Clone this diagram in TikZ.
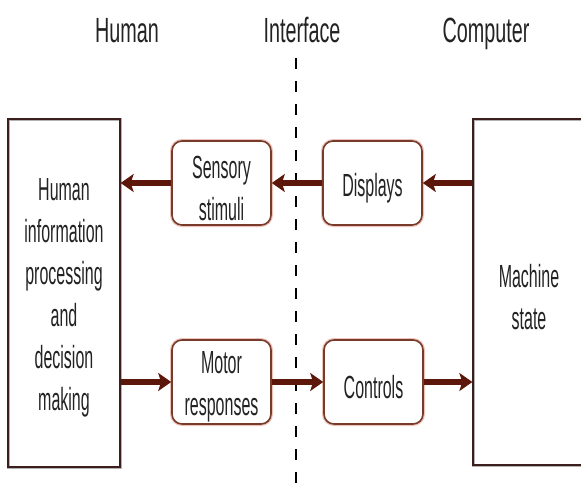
\documentclass[tikz,border=0pt]{standalone}
\usepackage{fontspec}
\setmainfont{Liberation Sans}
\newfontfamily\titlefont[FakeStretch=0.565]{Liberation Sans}
\newfontfamily\boxfont[FakeStretch=0.5]{Liberation Sans}
\usetikzlibrary{arrows.meta}

\definecolor{arrowc}{RGB}{92,22,10}
\definecolor{edgec}{RGB}{120,58,42}
\definecolor{halo}{RGB}{236,196,186}
\definecolor{bigedge}{RGB}{60,30,30}
\definecolor{txt}{RGB}{35,35,35}

\tikzset{
  title/.style={anchor=base, text=txt, inner sep=0pt,
    font=\titlefont\fontsize{35}{40}\selectfont},
  bigbox/.style={draw=bigedge, line width=1.3pt, minimum width=112pt,
    preaction={draw=black!30, line width=3pt}, inner sep=0pt},
  smallbox/.style={draw=edgec, line width=1.6pt, rounded corners=10pt,
    preaction={draw=halo, line width=4pt},
    fill=white, minimum width=99pt, minimum height=84pt, inner sep=0pt},
  boxtext/.style={align=center, text=txt, inner sep=0pt, yshift=-5pt,
    font=\boxfont\fontsize{32}{42}\selectfont},
  flow/.style={draw=arrowc, line width=5.5pt,
    -{Stealth[length=13pt, width=18pt, inset=3pt]}},
  divider/.style={draw=black, line width=1.6pt, dash pattern=on 11pt off 12pt}
}

\begin{document}
\begin{tikzpicture}[x=1pt, y=-1pt]
  \useasboundingbox[fill=white] (0,0) rectangle (581,485);

  % interface divider
  \coordinate (dtop) at (296,58);
  \coordinate (dbot) at (296,486);
  \draw[divider] (dtop) -- (dbot);

  % column headings
  \node[title] (thuman) at (127,42) {Human};
  \node[title] (tiface) at (302,42) {Interface};
  \node[title] (tcomp)  at (486,42) {Computer};

  % human and machine blocks
  \node[bigbox, minimum height=348pt] (human) at (64,293) {};
  \node[bigbox, minimum height=346pt] (machine) at (529,292) {};
  \node[boxtext] (humantxt) at (human.center)
    {Human\\information\\processing\\and\\decision\\making};
  \node[boxtext] (machinetxt) at (machine.center) {Machine\\state};

  % interface elements
  \node[smallbox] (sensory)  at (221.5,183) {};
  \node[smallbox] (displays) at (372.5,183) {};
  \node[smallbox] (motor)    at (221.5,382) {};
  \node[smallbox] (controls) at (373.5,382) {};
  \node[boxtext] (sensorytxt)  at (sensory.center)  {Sensory\\stimuli};
  \node[boxtext] (displaystxt) at (displays.center) {Displays};
  \node[boxtext] (motortxt)    at (motor.center)    {Motor\\responses};
  \node[boxtext] (controlstxt) at (controls.center) {Controls};

  % information flow
  \draw[flow] (machine.west |- displays) -- (displays.east);
  \draw[flow] (displays.west) -- (sensory.east);
  \draw[flow] (sensory.west) -- (human.east |- sensory);
  \draw[flow] (human.east |- motor) -- (motor.west);
  \draw[flow] (motor.east) -- (controls.west);
  \draw[flow] (controls.east) -- (machine.west |- controls);
\end{tikzpicture}
\end{document}
